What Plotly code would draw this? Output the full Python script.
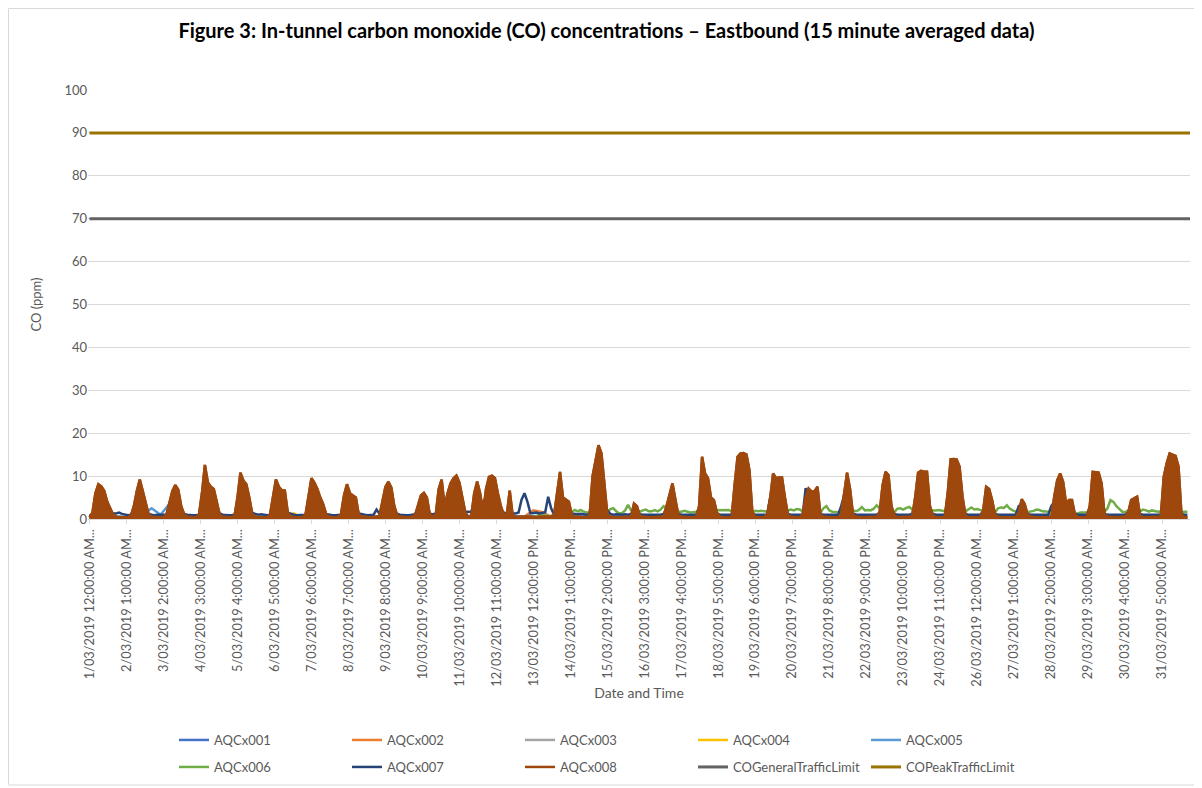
import pandas as pd
import plotly.graph_objects as go

TITLE = "Figure 3: In-tunnel carbon monoxide (CO) concentrations \u2013 Eastbound (15 minute averaged data)"
Y_TITLE = "CO (ppm)"
X_TITLE = "Date and Time"

tick_labels = [
    "1/03/2019 12:00:00 AM...", "2/03/2019 1:00:00 AM...", "3/03/2019 2:00:00 AM...",
    "4/03/2019 3:00:00 AM...", "5/03/2019 4:00:00 AM...", "6/03/2019 5:00:00 AM...",
    "7/03/2019 6:00:00 AM...", "8/03/2019 7:00:00 AM...", "9/03/2019 8:00:00 AM...",
    "10/03/2019 9:00:00 AM...", "11/03/2019 10:00:00 AM...", "12/03/2019 11:00:00 AM...",
    "13/03/2019 12:00:00 PM...", "14/03/2019 1:00:00 PM...", "15/03/2019 2:00:00 PM...",
    "16/03/2019 3:00:00 PM...", "17/03/2019 4:00:00 PM...", "18/03/2019 5:00:00 PM...",
    "19/03/2019 6:00:00 PM...", "20/03/2019 7:00:00 PM...", "21/03/2019 8:00:00 PM...",
    "22/03/2019 9:00:00 PM...", "23/03/2019 10:00:00 PM...", "24/03/2019 11:00:00 PM...",
    "26/03/2019 12:00:00 AM...", "27/03/2019 1:00:00 AM...", "28/03/2019 2:00:00 AM...",
    "29/03/2019 3:00:00 AM...", "30/03/2019 4:00:00 AM...", "31/03/2019 5:00:00 AM...",
]

period_start = "2019-03-01 00:00"
period_end = "2019-03-31 23:45"

co_general_traffic_limit = 70
co_peak_traffic_limit = 90

# AQCx008 - 2-hourly readings, one row per day (00:00 .. 22:00)
aqcx008_days = [
    [0.4, 1.5, 6.0, 8.1, 7.6, 6.5, 4.0, 2.5, 1.0, 0.5, 0.4, 0.4],
    [0.4, 0.4, 0.8, 3.0, 6.5, 9.2, 6.5, 3.5, 1.0, 0.5, 0.4, 0.4],
    [0.4, 0.4, 1.0, 3.5, 6.5, 7.9, 6.8, 3.0, 1.0, 0.5, 0.4, 0.4],
    [0.4, 1.0, 6.0, 12.6, 8.5, 7.5, 7.0, 4.0, 1.0, 0.5, 0.4, 0.4],
    [0.4, 0.6, 5.0, 10.8, 9.0, 8.1, 5.0, 1.2, 0.5, 0.4, 0.4, 0.4],
    [0.4, 1.0, 5.0, 9.2, 7.5, 6.7, 6.6, 1.5, 0.5, 0.4, 0.4, 0.4],
    [0.4, 1.0, 5.5, 9.5, 8.5, 7.0, 5.0, 3.4, 1.0, 0.5, 0.4, 0.4],
    [0.4, 1.2, 5.5, 8.1, 6.0, 5.5, 5.0, 1.0, 0.5, 0.6, 0.4, 0.4],
    [0.4, 0.5, 0.8, 4.5, 7.5, 8.7, 7.3, 3.0, 0.8, 0.5, 0.4, 0.4],
    [0.4, 0.5, 0.8, 3.5, 5.5, 6.1, 5.0, 1.0, 0.5, 1.0, 7.0, 9.2],
    [3.0, 6.0, 8.3, 9.5, 10.1, 8.5, 5.0, 1.5, 0.5, 0.5, 6.0, 8.7],
    [6.0, 1.5, 7.0, 9.8, 10.1, 9.5, 6.0, 3.0, 1.0, 0.8, 6.6, 0.8],
    [0.5, 0.5, 0.4, 0.5, 0.6, 0.5, 0.5, 0.4, 0.5, 0.5, 0.5, 0.6],
    [0.6, 1.0, 6.0, 11.0, 5.0, 4.4, 4.0, 0.8, 0.5, 0.5, 0.4, 0.4],
    [0.4, 0.8, 10.0, 14.1, 17.2, 15.3, 8.3, 1.0, 0.5, 0.4, 0.4, 0.4],
    [0.4, 0.4, 0.5, 0.5, 3.6, 3.0, 0.6, 0.5, 0.4, 0.4, 0.4, 0.4],
    [0.4, 0.4, 0.5, 3.0, 5.5, 8.3, 4.5, 0.8, 0.5, 0.4, 0.4, 0.4],
    [0.4, 0.4, 3.0, 14.5, 10.6, 9.5, 5.0, 4.4, 1.5, 0.5, 0.4, 0.4],
    [0.4, 0.4, 8.0, 14.5, 15.3, 15.4, 15.0, 11.4, 1.5, 0.5, 0.4, 0.4],
    [0.4, 1.0, 4.8, 10.6, 9.5, 9.7, 9.7, 5.0, 1.0, 0.5, 0.4, 0.4],
    [0.4, 1.0, 5.0, 7.1, 6.4, 6.5, 7.5, 1.0, 0.5, 0.4, 0.4, 0.4],
    [0.4, 0.4, 1.0, 6.0, 10.8, 7.0, 1.0, 0.5, 0.4, 0.4, 0.4, 0.4],
    [0.4, 0.4, 0.5, 1.5, 7.9, 11.0, 10.2, 3.0, 0.8, 0.4, 0.4, 0.4],
    [0.4, 0.4, 0.5, 5.0, 10.8, 11.2, 11.0, 11.0, 3.0, 0.8, 0.4, 0.4],
    [0.4, 0.4, 6.0, 13.9, 14.0, 13.9, 12.2, 5.2, 0.8, 0.4, 0.4, 0.4],
    [0.4, 0.4, 2.0, 7.5, 7.0, 4.4, 1.0, 0.5, 0.4, 0.4, 0.4, 0.4],
    [0.4, 0.4, 1.5, 4.6, 3.5, 1.0, 0.5, 0.4, 0.4, 0.4, 0.4, 0.4],
    [0.4, 0.4, 5.2, 9.0, 10.6, 8.7, 3.6, 4.4, 4.4, 1.0, 0.4, 0.4],
    [0.4, 0.4, 3.0, 11.0, 10.9, 10.8, 8.3, 1.0, 0.5, 0.4, 0.4, 0.4],
    [0.4, 0.4, 0.5, 1.5, 4.4, 4.8, 5.2, 0.8, 0.4, 0.4, 0.4, 0.4],
    [0.4, 0.4, 0.5, 9.8, 13.0, 15.3, 15.0, 14.7, 12.2, 1.0, 0.4, 0.4],
]

# AQCx007 - 2-hourly readings
aqcx007_days = [
    [0.9, 1.0, 3.0, 4.0, 4.5, 3.5, 2.5, 2.0, 1.3, 1.3, 1.5, 1.2],
    [1.0, 0.9, 1.0, 2.0, 4.0, 5.0, 4.0, 2.5, 1.2, 1.0, 0.9, 1.0],
    [1.0, 0.9, 1.0, 2.5, 4.0, 5.0, 4.0, 2.5, 1.2, 1.0, 0.9, 0.9],
    [0.9, 1.0, 4.0, 6.0, 5.0, 4.5, 4.0, 3.0, 1.3, 1.0, 0.9, 0.9],
    [0.9, 1.0, 3.5, 7.1, 5.0, 4.5, 3.5, 1.5, 1.2, 1.0, 1.1, 1.0],
    [0.9, 1.0, 3.5, 5.6, 4.5, 4.0, 3.5, 1.5, 1.2, 1.0, 0.9, 0.9],
    [0.9, 1.0, 3.5, 5.0, 4.5, 4.0, 3.0, 2.5, 1.2, 1.0, 0.9, 0.9],
    [0.9, 1.0, 3.5, 5.0, 4.0, 3.5, 3.0, 1.3, 1.1, 1.0, 0.9, 1.0],
    [1.0, 2.2, 1.2, 3.0, 4.5, 5.0, 4.5, 2.0, 1.2, 1.0, 0.9, 0.9],
    [0.9, 1.0, 1.1, 2.5, 3.5, 4.0, 3.0, 1.2, 1.1, 1.2, 4.0, 5.0],
    [2.5, 4.0, 5.0, 5.5, 6.0, 5.0, 3.5, 1.7, 1.7, 1.6, 4.0, 5.0],
    [4.0, 4.0, 5.0, 6.0, 6.0, 5.5, 4.0, 2.0, 1.5, 1.3, 3.0, 1.3],
    [1.3, 1.5, 4.5, 6.0, 4.0, 1.3, 1.4, 1.5, 1.3, 1.4, 1.6, 5.2],
    [2.5, 1.0, 4.0, 6.0, 3.5, 3.0, 2.5, 1.3, 1.2, 1.1, 1.2, 1.1],
    [1.0, 1.2, 6.0, 8.7, 7.0, 5.0, 3.5, 2.0, 1.2, 1.0, 1.1, 1.0],
    [1.0, 1.1, 1.0, 1.2, 2.0, 1.8, 1.1, 1.0, 1.0, 1.1, 1.0, 1.0],
    [1.0, 1.0, 1.2, 2.5, 4.0, 4.5, 3.0, 1.2, 1.0, 1.0, 1.0, 1.0],
    [1.0, 1.0, 2.5, 6.0, 6.0, 5.0, 3.5, 3.0, 1.3, 1.0, 1.0, 1.0],
    [1.0, 1.0, 5.0, 7.9, 7.5, 6.0, 5.0, 4.0, 1.3, 1.0, 1.0, 1.0],
    [1.0, 1.0, 5.0, 6.0, 5.5, 5.0, 5.0, 3.0, 1.2, 1.0, 1.0, 1.0],
    [1.0, 1.0, 7.2, 5.0, 4.5, 4.0, 4.0, 1.2, 1.0, 1.0, 1.0, 1.0],
    [1.0, 1.0, 3.0, 5.5, 5.5, 4.0, 1.3, 1.0, 1.0, 1.0, 1.0, 1.0],
    [1.0, 1.0, 1.0, 1.5, 4.5, 5.5, 5.0, 2.0, 1.2, 1.0, 1.0, 1.0],
    [1.0, 1.0, 1.2, 3.5, 5.5, 6.0, 6.0, 5.5, 2.0, 1.2, 1.0, 1.0],
    [1.0, 1.0, 4.0, 7.0, 7.0, 7.0, 6.0, 3.5, 1.2, 1.0, 1.0, 1.0],
    [1.0, 1.0, 1.8, 4.0, 4.0, 3.0, 1.2, 1.0, 1.0, 1.0, 1.0, 1.0],
    [1.0, 1.0, 3.0, 3.5, 2.5, 1.2, 1.0, 1.0, 1.0, 1.0, 1.0, 1.0],
    [1.0, 3.0, 4.0, 6.0, 6.0, 5.0, 2.5, 3.0, 3.0, 1.2, 1.0, 1.0],
    [1.0, 1.0, 2.5, 6.0, 6.0, 6.0, 5.0, 1.2, 1.0, 1.0, 1.0, 1.0],
    [1.0, 1.0, 1.0, 1.5, 3.0, 3.5, 3.5, 1.2, 1.0, 1.0, 1.0, 1.0],
    [1.0, 1.0, 1.0, 6.0, 8.0, 8.0, 8.0, 7.5, 6.0, 1.2, 1.0, 1.0],
]

# AQCx006 - 2-hourly readings
aqcx006_days = [
    [0.2, 0.3, 0.4, 0.5, 0.5, 0.4, 0.3, 0.3, 0.2, 0.2, 0.2, 0.3],
    [0.2, 0.2, 0.3, 0.4, 0.5, 0.4, 0.3, 0.2, 0.2, 0.2, 0.3, 0.2],
    [0.2, 0.3, 0.3, 0.5, 0.5, 0.4, 0.3, 0.3, 0.2, 0.2, 0.2, 0.2],
    [0.3, 0.2, 0.4, 0.5, 0.6, 0.4, 0.3, 0.2, 0.2, 0.3, 0.2, 0.2],
    [0.2, 0.2, 0.4, 0.5, 0.5, 0.4, 0.3, 0.3, 0.2, 0.2, 0.2, 0.3],
    [0.2, 0.3, 0.4, 0.5, 0.5, 0.4, 0.3, 0.3, 0.2, 0.2, 0.2, 0.2],
    [0.2, 0.2, 0.3, 0.5, 0.5, 0.4, 0.4, 0.3, 0.2, 0.2, 0.3, 0.2],
    [0.2, 0.3, 0.4, 0.5, 0.5, 0.4, 0.3, 0.2, 0.2, 0.2, 0.2, 0.2],
    [0.2, 0.2, 0.3, 0.4, 0.5, 0.5, 0.4, 0.3, 0.2, 0.2, 0.2, 0.3],
    [0.2, 0.2, 0.3, 0.4, 0.5, 0.4, 0.3, 0.3, 0.2, 0.3, 0.4, 0.5],
    [0.4, 0.5, 0.5, 0.6, 0.6, 0.5, 0.4, 0.3, 0.3, 0.3, 0.4, 0.5],
    [0.5, 0.4, 0.5, 0.6, 0.6, 0.5, 0.5, 0.4, 0.3, 0.3, 0.4, 0.3],
    [0.3, 0.3, 0.3, 0.3, 0.3, 0.4, 0.5, 0.6, 1.0, 1.3, 0.8, 0.6],
    [0.6, 0.8, 1.5, 1.5, 1.5, 1.5, 1.5, 1.7, 2.1, 1.8, 2.1, 1.7],
    [1.5, 1.6, 1.8, 2.0, 2.0, 2.0, 1.8, 1.5, 2.3, 2.5, 1.8, 1.3],
    [1.4, 2.0, 3.3, 2.0, 1.7, 1.7, 1.7, 2.0, 2.2, 1.8, 1.8, 2.1],
    [1.8, 2.2, 3.0, 2.5, 2.0, 2.0, 2.0, 1.7, 1.7, 1.9, 1.7, 1.5],
    [1.6, 1.7, 2.0, 2.0, 2.0, 2.0, 2.0, 2.0, 2.0, 2.1, 2.1, 2.0],
    [2.1, 1.8, 2.0, 2.0, 2.0, 2.0, 2.0, 2.0, 1.5, 1.9, 1.8, 1.9],
    [1.8, 1.7, 2.0, 2.0, 2.0, 2.0, 2.0, 2.0, 2.0, 2.2, 2.0, 2.3],
    [2.2, 1.8, 2.0, 2.0, 2.0, 2.0, 2.0, 1.5, 2.5, 3.0, 2.0, 1.7],
    [1.7, 1.6, 2.0, 2.0, 2.0, 2.0, 2.0, 1.8, 2.1, 2.8, 2.0, 2.1],
    [2.0, 2.4, 3.2, 2.5, 2.0, 2.0, 2.0, 2.0, 1.6, 2.4, 2.5, 2.2],
    [2.6, 2.8, 2.2, 2.0, 2.0, 2.0, 2.0, 2.0, 2.0, 1.9, 2.0, 2.1],
    [2.0, 1.8, 2.0, 2.0, 2.0, 2.0, 2.0, 2.0, 1.8, 2.2, 2.7, 2.2],
    [2.3, 2.1, 2.0, 2.0, 2.0, 2.0, 1.5, 2.5, 2.7, 2.6, 3.2, 2.4],
    [2.0, 1.7, 2.0, 2.0, 2.0, 1.6, 1.7, 1.9, 2.2, 2.1, 1.8, 1.7],
    [1.7, 1.8, 2.0, 2.0, 2.0, 2.0, 2.0, 2.0, 2.0, 1.2, 1.4, 1.5],
    [1.5, 1.6, 2.0, 2.0, 2.0, 2.0, 2.0, 1.7, 2.5, 4.4, 4.0, 3.0],
    [2.4, 1.7, 1.6, 2.0, 2.0, 2.0, 2.0, 1.8, 2.2, 2.0, 1.7, 2.0],
    [1.9, 1.7, 1.8, 2.0, 2.0, 2.0, 2.0, 2.0, 2.0, 1.5, 1.7, 1.7],
]

# AQCx001 - AQCx005 - 6-hourly readings, one row per day (00:00, 06:00, 12:00, 18:00)
aqcx001_days = [
    [0.4, 0.9, 0.8, 0.5], [0.4, 0.8, 0.9, 0.5], [0.5, 0.8, 0.9, 0.4], [0.4, 0.9, 0.8, 0.5],
    [0.4, 0.9, 0.8, 0.4], [0.5, 0.8, 0.9, 0.5], [0.4, 0.9, 0.8, 0.4], [0.4, 0.8, 0.8, 0.5],
    [0.4, 0.7, 0.8, 0.4], [0.4, 0.7, 0.8, 0.6], [0.6, 0.9, 0.8, 0.6], [0.7, 0.9, 0.8, 0.5],
    [0.5, 0.6, 0.6, 0.6], [0.6, 0.9, 0.8, 0.6], [0.6, 0.9, 0.9, 0.6], [0.6, 0.6, 0.7, 0.6],
    [0.6, 0.8, 0.8, 0.6], [0.6, 0.9, 0.9, 0.6], [0.6, 0.9, 0.9, 0.6], [0.6, 0.9, 0.9, 0.6],
    [0.6, 0.9, 0.8, 0.6], [0.6, 0.8, 0.8, 0.6], [0.6, 0.7, 0.9, 0.6], [0.6, 0.8, 0.9, 0.6],
    [0.6, 0.9, 0.9, 0.6], [0.6, 0.8, 0.7, 0.6], [0.6, 0.7, 0.6, 0.6], [0.6, 0.9, 0.8, 0.6],
    [0.6, 0.9, 0.9, 0.6], [0.6, 0.7, 0.8, 0.6], [0.6, 0.8, 0.9, 0.6],
]
aqcx002_days = [
    [0.3, 0.8, 0.7, 0.4], [0.3, 0.7, 0.8, 0.4], [0.4, 0.7, 0.8, 0.3], [0.3, 0.8, 0.7, 0.4],
    [0.3, 0.8, 0.7, 0.3], [0.4, 0.7, 0.8, 0.4], [0.3, 0.8, 0.7, 0.3], [0.3, 0.7, 0.7, 0.4],
    [0.3, 0.6, 0.7, 0.3], [0.3, 0.6, 0.7, 0.5], [0.5, 0.8, 0.7, 0.5], [0.6, 0.8, 0.7, 0.4],
    [0.5, 0.6, 2.0, 1.6], [0.5, 0.8, 0.7, 0.5], [0.5, 0.8, 0.8, 0.5], [0.5, 0.5, 0.6, 0.5],
    [0.5, 0.7, 0.7, 0.5], [0.5, 0.8, 0.8, 0.5], [0.5, 0.8, 0.8, 0.5], [0.5, 0.8, 0.8, 0.5],
    [0.5, 0.8, 0.7, 0.5], [0.5, 0.7, 0.7, 0.5], [0.5, 0.6, 0.8, 0.5], [0.5, 0.7, 0.8, 0.5],
    [0.5, 0.8, 0.8, 0.5], [0.5, 0.7, 0.6, 0.5], [0.5, 0.6, 0.5, 0.5], [0.5, 0.8, 0.7, 0.5],
    [0.5, 0.8, 0.8, 0.5], [0.5, 0.6, 0.7, 0.5], [0.5, 0.7, 0.8, 0.5],
]
aqcx003_days = [
    [0.3, 0.6, 0.6, 0.3], [0.3, 0.6, 0.7, 0.3], [0.3, 0.6, 0.7, 0.3], [0.3, 0.7, 0.6, 0.3],
    [0.3, 0.7, 0.6, 0.3], [0.3, 0.6, 0.7, 0.3], [0.3, 0.7, 0.6, 0.3], [0.3, 0.6, 0.6, 0.3],
    [0.3, 0.5, 0.6, 0.3], [0.3, 0.5, 0.6, 0.4], [0.4, 0.7, 0.6, 0.4], [0.4, 0.7, 0.6, 0.3],
    [0.4, 0.5, 0.5, 0.4], [0.4, 0.7, 0.6, 0.4], [0.4, 0.7, 0.7, 0.4], [0.4, 0.4, 0.5, 0.4],
    [0.4, 0.6, 0.6, 0.4], [0.4, 0.7, 0.7, 0.4], [0.4, 0.7, 0.7, 0.4], [0.4, 0.7, 0.7, 0.4],
    [0.4, 0.7, 0.6, 0.4], [0.4, 0.6, 0.6, 0.4], [0.4, 0.5, 0.7, 0.4], [0.4, 0.6, 0.7, 0.4],
    [0.4, 0.7, 0.7, 0.4], [0.4, 0.6, 0.5, 0.4], [0.4, 0.5, 0.4, 0.4], [0.4, 0.7, 0.6, 0.4],
    [0.4, 0.7, 0.7, 0.4], [0.4, 0.5, 0.6, 0.4], [0.4, 0.6, 0.7, 0.4],
]
aqcx004_days = [
    [0.3, 0.7, 0.6, 0.4], [0.3, 0.6, 0.7, 0.4], [0.4, 0.6, 0.7, 0.3], [0.3, 0.7, 0.6, 0.4],
    [0.3, 0.7, 0.6, 0.3], [0.4, 0.6, 0.7, 1.3], [0.3, 0.7, 0.6, 0.3], [0.3, 0.6, 0.6, 0.4],
    [0.3, 0.5, 0.6, 0.3], [0.3, 0.5, 0.6, 0.5], [0.5, 0.7, 0.6, 0.5], [0.5, 0.7, 0.6, 0.4],
    [0.4, 0.5, 0.5, 0.5], [0.5, 0.7, 0.6, 0.5], [0.5, 0.7, 0.7, 0.5], [0.5, 0.4, 0.5, 0.5],
    [0.5, 0.6, 0.6, 0.5], [0.5, 0.7, 0.7, 0.5], [0.5, 0.7, 0.7, 0.5], [0.5, 0.7, 0.7, 0.5],
    [0.5, 0.7, 0.6, 0.5], [0.5, 0.6, 0.6, 0.5], [0.5, 0.5, 0.7, 0.5], [0.5, 0.6, 0.7, 0.5],
    [0.5, 0.7, 0.7, 0.5], [0.5, 0.6, 0.5, 0.5], [0.5, 0.5, 0.4, 0.5], [0.5, 0.7, 0.6, 0.5],
    [0.5, 0.7, 0.7, 0.5], [0.5, 0.5, 0.6, 0.5], [0.5, 0.6, 0.7, 0.5],
]
aqcx005_days = [
    [0.5, 1.0, 0.9, 0.6], [0.5, 0.9, 1.0, 2.5], [1.0, 3.5, 1.0, 0.5], [0.5, 1.0, 0.9, 0.6],
    [0.5, 1.0, 0.9, 0.5], [0.6, 0.9, 1.0, 0.6], [0.5, 1.0, 0.9, 0.5], [0.5, 0.9, 0.9, 0.6],
    [0.5, 0.8, 0.9, 0.5], [0.5, 0.8, 0.9, 0.7], [0.7, 1.0, 0.9, 0.7], [0.8, 1.0, 0.9, 0.6],
    [0.6, 0.7, 0.7, 0.7], [0.7, 1.0, 0.9, 0.7], [0.7, 1.0, 1.0, 0.7], [0.7, 0.7, 0.8, 0.7],
    [0.7, 0.9, 0.9, 0.7], [0.7, 1.0, 1.0, 0.7], [0.7, 1.0, 1.0, 0.7], [0.7, 1.0, 1.0, 0.7],
    [0.7, 1.0, 0.9, 0.7], [0.7, 0.9, 0.9, 0.7], [0.7, 0.8, 1.0, 0.7], [0.7, 0.9, 1.0, 0.7],
    [0.7, 1.0, 1.0, 0.7], [0.7, 0.9, 0.8, 0.7], [0.7, 0.8, 0.7, 0.7], [0.7, 1.0, 0.9, 0.7],
    [0.7, 1.0, 1.0, 0.7], [0.7, 0.8, 0.9, 0.7], [0.7, 0.9, 1.0, 0.7],
]


def flatten(days):
    return [v for day in days for v in day]


times_2h = pd.date_range(period_start, periods=len(flatten(aqcx008_days)), freq="2h")
times_6h = pd.date_range(period_start, periods=len(flatten(aqcx001_days)), freq="6h")
limit_times = [pd.Timestamp(period_start), pd.Timestamp(period_end)]
tick_times = [pd.to_datetime(t.rstrip("."), format="%d/%m/%Y %I:%M:%S %p") for t in tick_labels]

series = [
    ("AQCx001", times_6h, flatten(aqcx001_days), "#4472C4"),
    ("AQCx002", times_6h, flatten(aqcx002_days), "#ED7D31"),
    ("AQCx003", times_6h, flatten(aqcx003_days), "#A5A5A5"),
    ("AQCx004", times_6h, flatten(aqcx004_days), "#FFC000"),
    ("AQCx005", times_6h, flatten(aqcx005_days), "#5B9BD5"),
    ("AQCx006", times_2h, flatten(aqcx006_days), "#70AD47"),
    ("AQCx007", times_2h, flatten(aqcx007_days), "#264478"),
    ("AQCx008", times_2h, flatten(aqcx008_days), "#9E480E"),
]

fig = go.Figure()
for i, (name, xs, ys, color) in enumerate(series):
    legend_id = "legend" if i < 5 else "legend2"
    if name == "AQCx008":
        # dense 15-minute record renders as a solid mass: fill below the line
        fig.add_trace(go.Scatter(
            x=xs, y=ys, name=name, mode="lines", line=dict(color=color, width=2.5),
            fill="tozeroy", fillcolor=color, showlegend=False, legendgroup=name,
            legend=legend_id, hoverinfo="skip"))
    fig.add_trace(go.Scatter(
        x=xs, y=ys, name=name, mode="lines",
        line=dict(color=color, width=2.5),
        legend=legend_id, legendgroup=name,
    ))

fig.add_trace(go.Scatter(
    x=limit_times, y=[co_general_traffic_limit] * 2, name="COGeneralTrafficLimit",
    mode="lines", line=dict(color="#636363", width=3), legend="legend2"))
fig.add_trace(go.Scatter(
    x=limit_times, y=[co_peak_traffic_limit] * 2, name="COPeakTrafficLimit",
    mode="lines", line=dict(color="#997300", width=3), legend="legend2"))

# page offset of the figure inside the browser page (default body margin)
OFF = 8
W, H = 1202 - OFF, 788 - OFF
L, R, T, B = 88 - OFF, 12, 90 - OFF, 269
pw, ph = W - L - R, H - T - B


def px_x(px):
    return (px - OFF - L) / pw


def px_y(py):
    return (H - B - (py - OFF)) / ph


legend_common = dict(
    orientation="h", xanchor="left", yanchor="middle",
    font=dict(family="Lato", size=13, color="#595959"),
    entrywidth=128, entrywidthmode="pixels", bgcolor="rgba(0,0,0,0)",
    traceorder="normal", itemwidth=30,
)

fig.update_layout(
    width=W, height=H,
    margin=dict(l=L, r=R, t=T, b=B, autoexpand=False),
    paper_bgcolor="white", plot_bgcolor="white",
    font=dict(family="Lato", size=13, color="#595959"),
    title=dict(text=TITLE, x=(606.5 - OFF) / W, xref="container", xanchor="center",
               y=1 - (31 - OFF) / H, yref="container", yanchor="middle",
               font=dict(family="Lato", size=20, color="#000000", weight="bold")),
    showlegend=True,
    legend=dict(x=px_x(174), y=px_y(740), **legend_common),
    legend2=dict(x=px_x(174), y=px_y(767), **legend_common),
    xaxis=dict(
        type="date", automargin=False,
        range=[pd.Timestamp(period_start) - pd.Timedelta(hours=1), pd.Timestamp(period_end)],
        tickmode="array", tickvals=tick_times, ticktext=tick_labels, tickangle=-90,
        tickfont=dict(family="Lato", size=12.8, color="#595959"),
        showgrid=False, showline=True, linecolor="#D9D9D9", linewidth=1,
        ticks="outside", ticklen=4, tickcolor="#D9D9D9", zeroline=False,
        title=dict(text=X_TITLE, standoff=2, font=dict(family="Lato", size=14, color="#595959")),
    ),
    yaxis=dict(
        range=[0, 100], dtick=10, tick0=0, automargin=False,
        showgrid=True, gridcolor="#D9D9D9", gridwidth=1,
        zeroline=False, showline=False, ticks="",
        tickfont=dict(family="Lato", size=13, color="#595959"),
        title=dict(text=Y_TITLE, standoff=19, font=dict(family="Lato", size=13, color="#595959")),
    ),
    shapes=[dict(type="rect", xref="paper", yref="paper",
                 x0=px_x(OFF + 0.5), x1=px_x(1197), y0=px_y(785), y1=px_y(OFF + 0.5),
                 line=dict(color="#D9D9D9", width=1), fillcolor="rgba(0,0,0,0)", layer="below")],
)

fig.write_html("out.html")
